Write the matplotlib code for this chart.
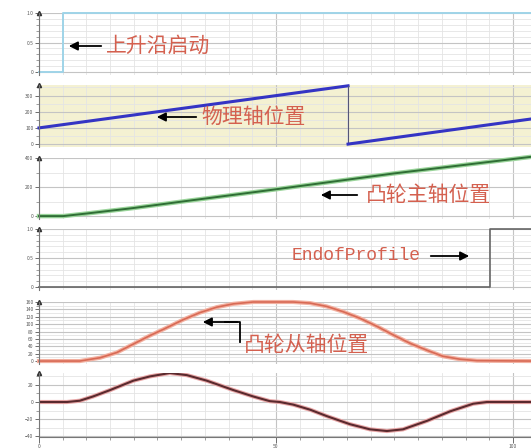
import matplotlib
matplotlib.use("Agg")
import matplotlib.pyplot as plt
from matplotlib.lines import Line2D
from matplotlib.ticker import MultipleLocator

plt.rcParams['font.family'] = ['Noto Sans CJK SC', 'DejaVu Sans']

W, H = 531, 448
X_MAX = 103.8

# 上升沿启动 (trigger)
trig_t = [0, 5.1, 5.1, X_MAX]
trig = [0, 0, 1, 1]

# 物理轴位置 (sawtooth, modulo 360)
phys_t = [0, 65.2, 65.2, X_MAX]
phys_pos = [100, 360, 0, 155]

# 凸轮主轴位置
master_t = [0, 5.1, 10.1, 19.8, 29.7, 41.0, 48.7, 74.7, X_MAX]
master_pos = [0, 0, 18, 55, 98, 146, 179, 293, 408]

# EndofProfile
eop_t = [0, 95.1, 95.1, X_MAX]
eop = [0, 0, 1, 1]

# 凸轮从轴位置
slave_t = [0, 8.6, 12.9, 16.4, 19.9, 23.4, 26.9, 30.4, 33.9, 37.5, 41.0, 45.2,
           53.6, 57.2, 60.7, 64.1, 67.7, 71.3, 74.7, 78.3, 81.9, 85.2, 88.8, 92.4, X_MAX]
slave_pos = [0, 0, 9, 23, 46, 69, 90, 112, 131, 146, 155, 160,
             160, 157, 148, 134, 116, 94, 71, 48, 29, 13, 5, 1, 0]

# 从轴速度
vel_t = [0, 5.9, 8.6, 11.4, 15.0, 19.9, 23.4, 27.6, 31.2, 35.4, 41.0, 45.2, 48.7,
         50.8, 53.6, 57.2, 60.7, 65.6, 69.8, 73.4, 76.8, 81.9, 86.7, 91.6, 94.5, X_MAX]
vel = [0, 0, 1.5, 6.5, 14, 25, 30, 34, 31.5, 25, 14, 6.5, 1,
       0, -3, -9, -16.5, -26, -32, -34, -32, -22, -11, -2, 0, 0]

x_ticks = [0, 50, 100]
x_labels = ['0', '50', '100']


def add_panel(fig, top, bottom, ylim, major, minor, labels=None, face='white'):
    left = 39
    ax = fig.add_axes([left / W, (H - bottom) / H, (W - left) / W, (bottom - top) / H])
    ax.set_facecolor(face)
    ax.set_xlim(0, X_MAX)
    ax.set_ylim(*ylim)
    ax.xaxis.set_major_locator(MultipleLocator(50))
    ax.xaxis.set_minor_locator(MultipleLocator(5))
    ax.yaxis.set_major_locator(MultipleLocator(major))
    ax.yaxis.set_minor_locator(MultipleLocator(minor))
    ax.grid(which='major', color='#c4c4c4', lw=0.8)
    ax.grid(which='minor', color='#e4e4e4', lw=0.6)
    ax.set_axisbelow(True)
    for s in ['top', 'right', 'bottom']:
        ax.spines[s].set_visible(False)
    ax.spines['left'].set_color('#777777')
    ax.spines['left'].set_linewidth(0.8)
    ax.tick_params(axis='y', labelsize=3.5, colors='#555555', length=3, width=0.6, pad=1)
    ax.tick_params(axis='y', which='minor', length=2, width=0.5, colors='#777777')
    ax.tick_params(axis='x', which='both', length=0, labelbottom=False)
    if labels is not None:
        ax.set_yticks([v for v, _ in labels])
        ax.set_yticklabels([t for _, t in labels])
    ax.plot([0], [1], marker='^', ms=3, color='#333333',
            transform=ax.transAxes, clip_on=False)
    return ax


fig = plt.figure(figsize=(W / 100, H / 100), dpi=100)

ax1 = add_panel(fig, 13, 75, (-0.05, 1.0), 0.5, 0.1,
                labels=[(0, '0'), (0.5, '0.5'), (1.0, '1.0')])
ax1.plot(trig_t, trig, color='#9fd4e8', lw=1.4, clip_on=False)

ax2 = add_panel(fig, 85, 147, (-18, 365), 100, 50, face='#f4f1d2')
ax2.plot(phys_t[:2], phys_pos[:2], color='#3434c4', lw=2.2, clip_on=False)
ax2.plot(phys_t[1:3], phys_pos[1:3], color='#555577', lw=0.8)
ax2.plot(phys_t[2:], phys_pos[2:], color='#3434c4', lw=2.2, clip_on=False)

ax3 = add_panel(fig, 158, 219, (-20, 400), 200, 100)
ax3.plot(master_t, master_pos, color='#9ad49a', lw=3.2, clip_on=False)
ax3.plot(master_t, master_pos, color='#2f6e35', lw=1.4, clip_on=False)

ax4 = add_panel(fig, 229, 290, (-0.05, 1.0), 0.5, 0.1,
                labels=[(0, '0'), (0.5, '0.5'), (1.0, '1.0')])
ax4.plot(eop_t, eop, color='#666666', lw=1.2, clip_on=False)

ax5 = add_panel(fig, 302, 364, (-8, 160), 20, 10)
ax5.plot(slave_t, slave_pos, color='#f2b0a0', lw=3.0, clip_on=False)
ax5.plot(slave_t, slave_pos, color='#d86a55', lw=1.2, clip_on=False)

ax6 = add_panel(fig, 373, 437, (-41, 34), 20, 10)
ax6.plot(vel_t, vel, color='#e8a6a6', lw=3.0)
ax6.plot(vel_t, vel, color='#5a2a2e', lw=1.5)
ax6.spines['bottom'].set_visible(True)
ax6.spines['bottom'].set_color('#777777')
ax6.set_xticks(x_ticks)
ax6.set_xticklabels(x_labels)
ax6.tick_params(axis='x', which='major', length=4, width=0.6, colors='#555555',
                labelbottom=True, labelsize=3.5, pad=1)
ax6.tick_params(axis='x', which='minor', length=2, width=0.5, colors='#777777')


def fp(x, y):
    return (x / W, 1 - y / H)


TXT = '#d4604f'
ARROW = dict(arrowstyle='-|>', color='black', lw=1.3, mutation_scale=13)


def left_arrow(x0, x1, y):
    fig.add_artist(plt.Annotation('', xy=fp(x0, y), xytext=fp(x1, y),
                                  xycoords='figure fraction', arrowprops=ARROW))


left_arrow(66, 104, 46)
fig.text(*fp(106, 46), '上升沿启动', color=TXT, fontsize=15, va='center', ha='left')

left_arrow(154, 199, 117)
fig.text(*fp(201, 117), '物理轴位置', color=TXT, fontsize=15, va='center', ha='left')

left_arrow(318, 360, 195)
fig.text(*fp(366, 195), '凸轮主轴位置', color=TXT, fontsize=15, va='center', ha='left')

fig.text(*fp(292, 256), 'EndofProfile', color=TXT, fontsize=13, va='center', ha='left',
         family=['Liberation Mono', 'DejaVu Sans Mono'])
fig.add_artist(plt.Annotation('', xy=fp(472, 256), xytext=fp(428, 256),
                              xycoords='figure fraction', arrowprops=ARROW))

fig.add_artist(Line2D([fp(240, 342)[0], fp(240, 322)[0], fp(225, 322)[0]],
                      [fp(240, 342)[1], fp(240, 322)[1], fp(225, 322)[1]],
                      transform=fig.transFigure, color='black', lw=1.3))
left_arrow(200, 240, 322)
fig.text(*fp(244, 345), '凸轮从轴位置', color=TXT, fontsize=15, va='center', ha='left')

fig.savefig('out.png', dpi=100)
